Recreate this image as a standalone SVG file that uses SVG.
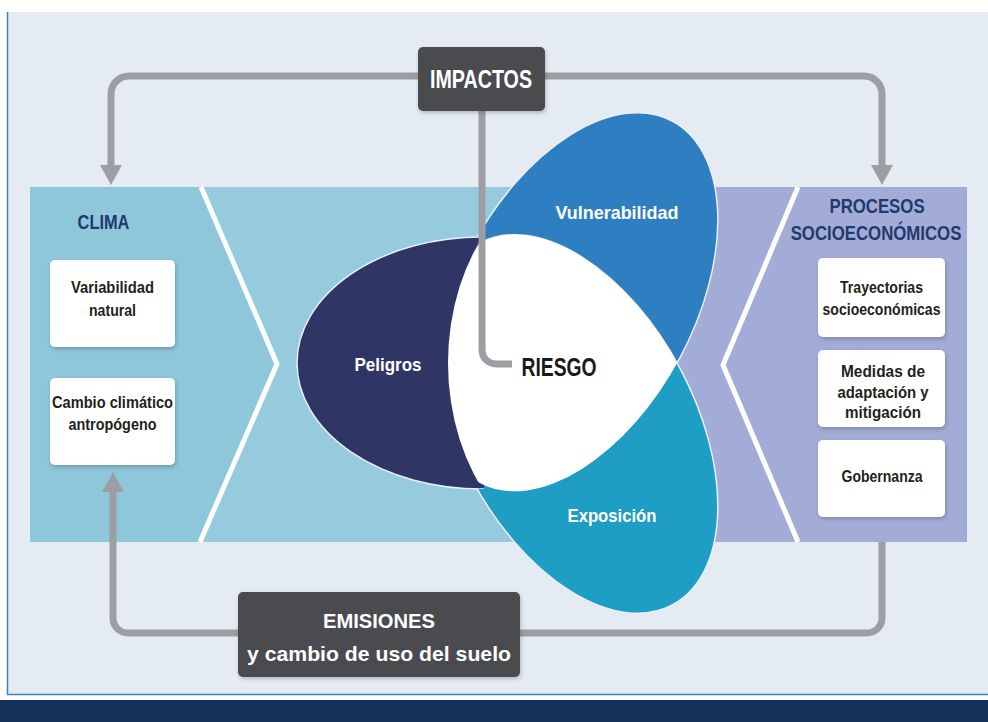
<svg xmlns="http://www.w3.org/2000/svg" width="988" height="722" viewBox="0 0 988 722">
<defs>
<style>
.t{font-family:"Liberation Sans Narrow","Liberation Sans",Arial,sans-serif;font-weight:bold;text-anchor:middle;}
.bt{font-size:17px;fill:#231f20;}
.ttl{font-size:21px;fill:#1f3a6d;}
.pl{font-size:19px;fill:#ffffff;}
.wbox{fill:#ffffff;filter:url(#sh);}
.gbox{fill:#4a4b4f;filter:url(#sh);}
.conn{fill:none;stroke:#9c9ea3;stroke-width:7;}
.chev{fill:none;stroke:#ffffff;stroke-width:5;stroke-linejoin:round;}
.petal{stroke:#e9f0f7;stroke-width:1.5;}
</style>
<marker id="ah" markerUnits="userSpaceOnUse" markerWidth="20" markerHeight="22" viewBox="0 0 20 22" refX="2" refY="11" orient="auto">
<path d="M0,0 L20,11 L0,22 z" fill="#9c9ea3"/>
</marker>
<filter id="sh" x="-10%" y="-10%" width="125%" height="135%">
<feDropShadow dx="1" dy="2" stdDeviation="2" flood-color="#000000" flood-opacity="0.22"/>
</filter>
<clipPath id="rightOf">
<rect x="484" y="0" width="504" height="722"/>
<path clip-rule="evenodd" d="M0,0 H484 V722 H0 Z M297,363 A185,126 0 1 0 667,363 A185,126 0 1 0 297,363 Z"/>
</clipPath>
<clipPath id="clipV"><ellipse cx="576" cy="302" rx="205" ry="118" transform="rotate(-62 576 302)"/></clipPath>
<clipPath id="clipL"><ellipse cx="600" cy="363" rx="152" ry="199"/></clipPath>
</defs>

<!-- background -->
<rect x="0" y="0" width="988" height="722" fill="#ffffff"/>
<rect x="7" y="12" width="981" height="683" fill="#e5ebf3"/>
<line x1="7.5" y1="12" x2="7.5" y2="695" stroke="#3f7fc0" stroke-width="1.5"/>
<line x1="7" y1="694.5" x2="988" y2="694.5" stroke="#3f7fc0" stroke-width="1.5"/>
<rect x="0" y="700" width="988" height="22" fill="#13315b"/>

<!-- panels -->
<g id="panels">
<rect x="30" y="187" width="648" height="355" fill="#96cadd"/>
<polygon points="30,187 201,187 277,364 200,542 30,542" fill="#8ec6da"/>
<rect x="676" y="187" width="291" height="355" fill="#a3acd7"/>
<polyline class="chev" points="201,187 277,364 200,542"/>
<polyline class="chev" points="798,187 723,365 798,542"/>
</g>

<!-- petals -->
<g id="peligros">
<ellipse class="petal" cx="482" cy="363" rx="185" ry="126" fill="#2f3666"/>
<text class="t pl" x="388" y="371" textLength="67" lengthAdjust="spacingAndGlyphs">Peligros</text>
</g>
<g id="vulnerabilidad">
<g clip-path="url(#rightOf)">
<ellipse class="petal" cx="576" cy="302" rx="205" ry="118" transform="rotate(-62 576 302)" fill="#2e7fc2"/>
</g>
<text class="t pl" x="617" y="219" textLength="123" lengthAdjust="spacingAndGlyphs">Vulnerabilidad</text>
</g>
<g id="exposicion">
<g clip-path="url(#rightOf)">
<ellipse class="petal" cx="576" cy="424" rx="205" ry="118" transform="rotate(62 576 424)" fill="#1e9dc5"/>
</g>
<text class="t pl" x="612" y="522" textLength="89" lengthAdjust="spacingAndGlyphs">Exposición</text>
</g>
<g id="riesgo">
<g clip-path="url(#clipV)">
<g clip-path="url(#clipL)">
<ellipse cx="576" cy="424" rx="205" ry="118" transform="rotate(62 576 424)" fill="#ffffff"/>
</g>
</g>
<text class="t" x="559" y="376" font-size="25" fill="#1a1a1a" textLength="75" lengthAdjust="spacingAndGlyphs">RIESGO</text>
</g>

<!-- connectors -->
<g id="connectors">
<path class="conn" d="M418,76 H129 A18,18 0 0 0 111,94 V167" marker-end="url(#ah)"/>
<path class="conn" d="M545,76 H864 A18,18 0 0 1 882,94 V167" marker-end="url(#ah)"/>
<path class="conn" d="M482,111 V350 A14,14 0 0 0 496,364 H512"/>
<path class="conn" d="M882,542 V618 A15,15 0 0 1 867,633 H520"/>
<path class="conn" d="M238,633 H128 A15,15 0 0 1 113,618 V490" marker-end="url(#ah)"/>
</g>

<!-- CLIMA -->
<g id="clima">
<text class="t ttl" transform="translate(103.5 229) scale(0.78 1)" x="0" y="0">CLIMA</text>
</g>
<g id="variabilidad-natural">
<rect class="wbox" x="50" y="260" width="125" height="87" rx="5"/>
<text class="t bt" x="112.5" y="293" textLength="83" lengthAdjust="spacingAndGlyphs">Variabilidad</text>
<text class="t bt" x="112.5" y="316" textLength="47" lengthAdjust="spacingAndGlyphs">natural</text>
</g>
<g id="cambio-climatico">
<rect class="wbox" x="50" y="378" width="125" height="87" rx="5"/>
<text class="t bt" x="112.5" y="408" textLength="121" lengthAdjust="spacingAndGlyphs">Cambio climático</text>
<text class="t bt" x="112.5" y="430" textLength="88" lengthAdjust="spacingAndGlyphs">antropógeno</text>
</g>

<!-- PROCESOS SOCIOECONOMICOS -->
<g id="procesos">
<text class="t ttl" transform="translate(877 213) scale(0.8 1)" x="0" y="0">PROCESOS</text>
<text class="t ttl" transform="translate(876 240) scale(0.8 1)" x="0" y="0">SOCIOECONÓMICOS</text>
</g>
<g id="trayectorias">
<rect class="wbox" x="818" y="258" width="127" height="79" rx="5"/>
<text class="t bt" x="881.5" y="293" textLength="83" lengthAdjust="spacingAndGlyphs">Trayectorias</text>
<text class="t bt" x="881.5" y="315" textLength="118" lengthAdjust="spacingAndGlyphs">socioeconómicas</text>
</g>
<g id="medidas">
<rect class="wbox" x="818" y="350" width="127" height="77" rx="5"/>
<text class="t bt" x="883" y="377" textLength="84" lengthAdjust="spacingAndGlyphs">Medidas de</text>
<text class="t bt" x="883" y="398" textLength="91" lengthAdjust="spacingAndGlyphs">adaptación y</text>
<text class="t bt" x="883" y="418" textLength="76" lengthAdjust="spacingAndGlyphs">mitigación</text>
</g>
<g id="gobernanza">
<rect class="wbox" x="818" y="440" width="127" height="77" rx="5"/>
<text class="t bt" x="882" y="482" textLength="81" lengthAdjust="spacingAndGlyphs">Gobernanza</text>
</g>

<!-- IMPACTOS -->
<g id="impactos">
<rect class="gbox" x="418" y="47" width="127" height="64" rx="5"/>
<text class="t" x="481" y="88" font-size="26" fill="#ffffff" textLength="102" lengthAdjust="spacingAndGlyphs">IMPACTOS</text>
</g>

<!-- EMISIONES -->
<g id="emisiones">
<rect class="gbox" x="238" y="592" width="282" height="85" rx="5"/>
<text class="t" x="379" y="628" font-size="21" fill="#ffffff" textLength="112" lengthAdjust="spacingAndGlyphs">EMISIONES</text>
<text class="t" x="379" y="661" font-size="21" fill="#ffffff" textLength="264" lengthAdjust="spacingAndGlyphs">y cambio de uso del suelo</text>
</g>
</svg>
